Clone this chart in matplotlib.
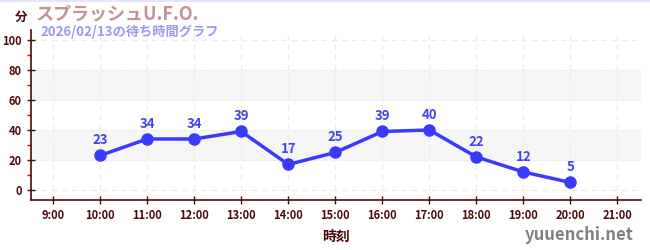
import matplotlib
matplotlib.use("Agg")
import matplotlib.pyplot as plt
from matplotlib.ticker import MultipleLocator

plt.rcParams['font.family'] = ['Noto Sans CJK JP', 'DejaVu Sans']

# data
hours = [10, 11, 12, 13, 14, 15, 16, 17, 18, 19, 20]
waits = [23, 34, 34, 39, 17, 25, 39, 40, 22, 12, 5]
tick_hours = list(range(9, 22))
tick_labels = [f"{h}:00" for h in tick_hours]
bands = [(20, 40), (60, 80)]

title = "スプラッシュU.F.O."
subtitle = "2026/02/13の待ち時間グラフ"

dark = '#4a0a0a'
blue = '#3a3aff'

fig = plt.figure(figsize=(6.5, 2.5), dpi=100)
ax = fig.add_axes([31 / 650, 50 / 250, 610 / 650, 170 / 250])

for lo, hi in bands:
    ax.axhspan(lo, hi, color='#f6f6f6', zorder=0)

ax.plot(hours, waits, color=blue, lw=2.5, marker='o', ms=8, zorder=3)
for h, w in zip(hours, waits):
    ax.annotate(str(w), (h, w), xytext=(0, 6), textcoords='offset points',
                ha='center', va='bottom', color='#4444ee', fontsize=9.5,
                fontweight='bold')

ax.set_xlim(8.53, 21.5)
ax.set_ylim(-6.7, 106.7)
ax.set_xticks(tick_hours)
ax.set_xticklabels(tick_labels)
ax.yaxis.set_major_locator(MultipleLocator(20))
ax.yaxis.set_minor_locator(MultipleLocator(10))

ax.grid(True, which='major', color='#ebebeb', ls=(0, (5, 4)), lw=0.8)
ax.set_axisbelow(True)

for s in ['top', 'right']:
    ax.spines[s].set_visible(False)
for s in ['left', 'bottom']:
    ax.spines[s].set_color(dark)
    ax.spines[s].set_linewidth(1.2)

ax.tick_params(axis='both', which='major', direction='inout', length=6,
               color=dark, labelcolor=dark, labelsize=8, width=1)
ax.tick_params(axis='y', which='minor', direction='out', length=3,
               color='#cc0000', width=1)
for lab in ax.get_xticklabels() + ax.get_yticklabels():
    lab.set_fontweight('bold')

ax.set_xlabel("時刻", color=dark, fontsize=10, fontweight='bold', labelpad=6)

fig.text(15 / 650, 1 - 17 / 250, "分", color=dark, fontsize=9,
         fontweight='bold', va='center')
fig.text(36 / 650, 1 - 14 / 250, title, color='#c49494', fontsize=13,
         fontweight='bold', va='center')
fig.text(40 / 650, 1 - 32 / 250, subtitle, color='#9a9af0', fontsize=9.5,
         fontweight='bold', va='center')
fig.text(634 / 650, 1 - 235 / 250, "yuuenchi.net", color='#808080',
         fontsize=12, fontweight='bold', ha='right', va='center')

fig.add_artist(plt.Line2D([0, 1], [0.998, 0.998], color='#e0e0ff', lw=1.2))

fig.savefig("out.png", dpi=100)
